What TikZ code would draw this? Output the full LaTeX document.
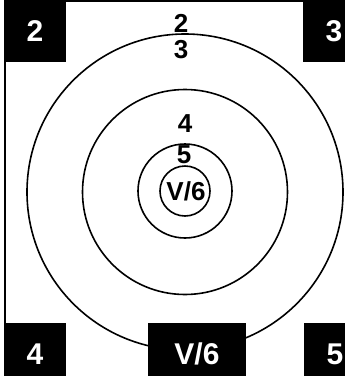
\documentclass[tikz,border=0pt]{standalone}
\usepackage{fontspec}
\setmainfont{Liberation Sans}
\usetikzlibrary{positioning}

\tikzset{
  cornerbox/.style={fill=black,text=white,inner sep=0pt,
    font=\bfseries\fontsize{30}{30}\selectfont},
  ringlabel/.style={inner sep=0pt,font=\bfseries\fontsize{26}{26}\selectfont},
  ring/.style={line width=1.6pt}
}

\begin{document}
\begin{tikzpicture}[x=1pt,y=-1pt]
  \useasboundingbox (0,0) rectangle (345,376);
  \clip (0,0) rectangle (345,376);
  % frame edges
  \draw[line width=1.4pt] (5,330) -- (5,1) -- (303,1);
  % target rings
  \coordinate (c) at (185,192);
  \coordinate (ci) at (185,191);
  \draw[ring] (c) circle[radius=158];
  \draw[ring] (c) circle[radius=102.5];
  \draw[ring] (ci) circle[radius=47];
  \draw[ring] (ci) circle[radius=25];
  % ring labels
  \node[ringlabel] (top2) at (181,23) {2};
  \node[ringlabel] (top3) at (181,50) {3};
  \node[ringlabel] (mid4) at (185,124) {4};
  \node[ringlabel] (mid5) at (184,155) {5};
  \node[ringlabel] (midv) at (186,191) {V/6};
  % corner boxes
  \node[cornerbox,minimum width=62pt,minimum height=62pt] (box2) at (35,31) {2};
  \node[cornerbox,minimum width=62pt,minimum height=62pt] (box3) at (334,31) {3};
  \node[cornerbox,minimum width=62pt,minimum height=62pt] (box4) at (35,354) {4};
  \node[cornerbox,minimum width=98pt,minimum height=62pt] (boxv) at (197,354) {V/6};
  \node[cornerbox,minimum width=62pt,minimum height=62pt] (box5) at (335,354) {5};
\end{tikzpicture}
\end{document}
